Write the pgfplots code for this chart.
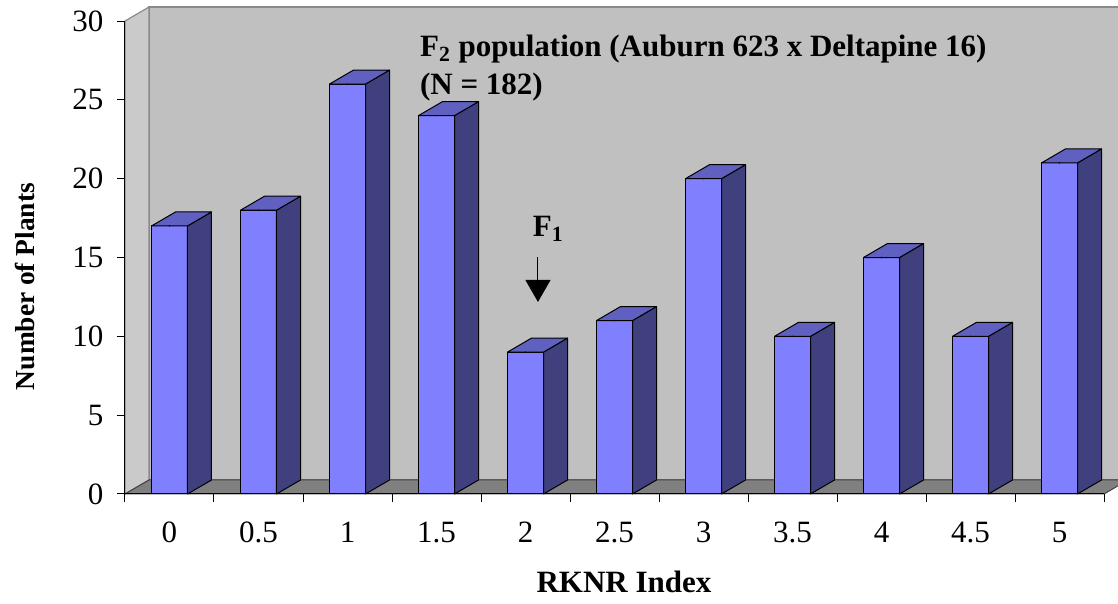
\documentclass[border=0pt]{standalone}
\usepackage{pgfplots}
\pgfplotsset{compat=1.18}
\usepackage{pgfplotstable}
\usepackage{fontspec}
\setmainfont{Liberation Serif}
\usetikzlibrary{arrows.meta}
\definecolor{wallgray}{HTML}{C0C0C0}
\definecolor{sidewall}{HTML}{CACACA}
\definecolor{floorgray}{HTML}{808080}
\definecolor{edgegray}{HTML}{8A8A8A}
\definecolor{barfront}{HTML}{8080FF}
\definecolor{barside}{HTML}{40407F}
\definecolor{bartop}{HTML}{6060C0}
\pgfplotstableread{
x n
0 17
1 18
2 26
3 24
4 9
5 11
6 20
7 10
8 15
9 10
10 21
}\datatable
\def\yu{7.883}
\newcommand{\bigfont}{\fontsize{15.5}{18}\selectfont}
\begin{document}
\begin{tikzpicture}[font=\bigfont]
\begin{axis}[
  x=44.5pt, y=\yu pt,
  xmin=-0.5, xmax=10.5, ymin=0, ymax=30,
  axis x line*=bottom, axis y line*=left,
  axis line style={black, line width=0.5pt, -},
  axis on top,
  clip=false,
  tick align=outside,
  major tick length=4pt,
  tick style={black, line width=0.5pt},
  xtick={-0.5,0.5,...,10.5},
  xticklabels={0,0.5,1,1.5,2,2.5,3,3.5,4,4.5,5,{}},
  xticklabel style={xshift=22.25pt, yshift=-6.5pt},
  ytick={0,5,...,30},
  yticklabel style={xshift=-3.3pt},
  /pgf/number format/assume math mode=true,
  xlabel={\bfseries RKNR Index},
  xlabel style={at={(axis description cs:0.5097,-0.2093)}, anchor=base},
  ylabel={\bfseries Number of Plants},
  ylabel style={at={(axis description cs:-0.102,0.4387)}, anchor=center, font=\fontsize{13.7}{16}\selectfont},
]
% back wall
\filldraw[fill=wallgray, draw=edgegray, line width=0.6pt]
  ([shift={(12pt,7pt)}]axis cs:-0.5,0) rectangle ([shift={(12pt,7pt)}]axis cs:10.5,30);
% left side wall
\filldraw[fill=sidewall, draw=edgegray, line width=0.6pt]
  (axis cs:-0.5,0) -- (axis cs:-0.5,30) -- ([shift={(12pt,7pt)}]axis cs:-0.5,30) -- ([shift={(12pt,7pt)}]axis cs:-0.5,0) -- cycle;
% floor
\filldraw[fill=floorgray, draw=black!75, line width=0.5pt]
  (axis cs:-0.5,0) -- (axis cs:10.5,0) -- ([shift={(12pt,7pt)}]axis cs:10.5,0) -- ([shift={(12pt,7pt)}]axis cs:-0.5,0) -- cycle;
\coordinate (ll) at (axis cs:-0.5,0);
% front faces
\addplot[ybar, bar width=18pt, bar shift=0pt, fill=barfront, draw=black, line width=0.5pt]
  table[x=x, y=n] {\datatable};
% side and top faces
\addplot[scatter, only marks, mark=*, mark size=0.1pt, mark options={draw=none, fill=none},
  visualization depends on={\thisrow{n} \as \yv},
  scatter/@pre marker code/.code={%
    \filldraw[fill=barside, draw=black, line width=0.5pt, line join=round]
      (9pt,0pt) -- (21pt,7pt) -- (21pt,{7pt-\yv*\yu pt}) -- (9pt,{-\yv*\yu pt}) -- cycle;
    \filldraw[fill=bartop, draw=black, line width=0.5pt, line join=round]
      (-9pt,0pt) -- (9pt,0pt) -- (21pt,7pt) -- (3pt,7pt) -- cycle;
  },
  scatter/@post marker code/.code={},
] table[x=x, y=n] {\datatable};
% annotations
\node[anchor=base west, font=\bigfont\bfseries, inner sep=0pt] at (axis description cs:0.301,0.9245)
  {F\textsubscript{2} population (Auburn 623 x Deltapine 16)};
\node[anchor=base west, font=\bigfont\bfseries, inner sep=0pt] at (axis description cs:0.301,0.8436)
  {(N = 182)};
\node[anchor=base west, font=\bigfont\bfseries, inner sep=0pt] at (axis description cs:0.4163,0.544)
  {F\textsubscript{1}};
\draw[-{Triangle[width=12.5pt,length=11pt]}, line width=0.5pt]
  (axis cs:4.14,15.03) -- (axis cs:4.14,12.18);
\end{axis}
\pgfresetboundingbox
\path ([shift={(-62.5pt,-55pt)}]ll) rectangle ([shift={(496.5pt,247pt)}]ll);
\end{tikzpicture}
\end{document}
